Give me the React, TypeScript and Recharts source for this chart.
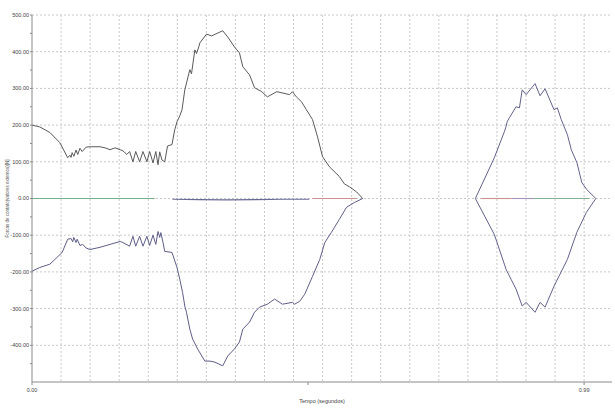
import { LineChart, Line, XAxis, YAxis, CartesianGrid } from "recharts";

if (typeof document !== "undefined") document.body.style.margin = "0";

// envelope superior (cinza escuro)
const upperT = [
	0, 0.014, 0.032, 0.05, 0.064, 0.068, 0.07, 0.072, 0.075, 0.079, 0.082, 0.086, 0.09, 0.097,
	0.104, 0.122, 0.131, 0.14, 0.149, 0.158, 0.163, 0.17, 0.175, 0.181, 0.186, 0.193, 0.199,
	0.206, 0.211, 0.217, 0.222, 0.226, 0.229, 0.233, 0.238, 0.243, 0.251, 0.256, 0.26, 0.265,
	0.269, 0.274, 0.283, 0.286, 0.292, 0.295, 0.299, 0.301, 0.313, 0.322, 0.342, 0.351, 0.363,
	0.372, 0.378, 0.39, 0.399, 0.412, 0.422, 0.439, 0.462, 0.467, 0.474, 0.483, 0.492, 0.503,
	0.512, 0.521, 0.533, 0.551, 0.56, 0.569, 0.582, 0.593,
];
const upperF = [
	200, 195, 180, 152, 111, 118, 112, 125, 115, 132, 120, 137, 128, 140,
	141, 141, 138, 133, 138, 133, 130, 120, 128, 100, 128, 100, 128,
	100, 128, 97, 128, 92, 127, 105, 100, 143, 147, 188, 209, 225,
	242, 296, 351, 340, 405, 395, 413, 424, 448, 443, 457, 440, 413,
	397, 359, 337, 302, 291, 277, 291, 283, 291, 277, 264, 242, 215,
	168, 114, 87, 60, 40, 32, 18, 0,
];

// envelope inferior (azul acinzentado)
const lowerT = [
	0, 0.014, 0.032, 0.041, 0.054, 0.064, 0.07, 0.073, 0.075, 0.079, 0.081, 0.086, 0.091, 0.097,
	0.104, 0.122, 0.14, 0.158, 0.163, 0.175, 0.181, 0.186, 0.193, 0.199, 0.206, 0.211, 0.217,
	0.222, 0.226, 0.229, 0.231, 0.235, 0.238, 0.251, 0.26, 0.265, 0.27, 0.274, 0.277, 0.283,
	0.288, 0.297, 0.31, 0.319, 0.328, 0.342, 0.351, 0.363, 0.372, 0.378, 0.39, 0.399, 0.408,
	0.422, 0.435, 0.449, 0.467, 0.471, 0.48, 0.489, 0.503, 0.516, 0.525, 0.537, 0.551, 0.564,
	0.578, 0.593,
];
const lowerF = [
	-198, -188, -179, -166, -147, -111, -109, -118, -106, -120, -111, -128, -125, -135,
	-139, -133, -125, -117, -120, -130, -103, -130, -103, -130, -103, -128, -100,
	-125, -90, -106, -93, -120, -144, -147, -188, -220, -256, -293, -310, -356,
	-383, -410, -443, -443, -446, -456, -429, -410, -391, -356, -337, -310, -296,
	-288, -274, -288, -283, -288, -280, -261, -212, -166, -120, -92, -57, -24,
	-11, 0,
];

// segundo evento
const upper2T = [
	0.795, 0.829, 0.847, 0.85, 0.852, 0.856, 0.868, 0.874, 0.879, 0.886, 0.902, 0.911, 0.92,
	0.936, 0.942, 0.949, 0.96, 0.967, 0.977, 0.986, 0.995, 1.011,
];
const upper2F = [
	0, 111, 182, 196, 209, 220, 250, 247, 296, 283, 313, 280, 299,
	242, 247, 215, 174, 133, 98, 43, 24, 0,
];
const lower2T = [
	0.795, 0.829, 0.847, 0.85, 0.859, 0.868, 0.879, 0.886, 0.902, 0.911, 0.92, 0.936, 0.96,
	0.977, 0.994, 1.011,
];
const lower2F = [
	0, -98, -179, -193, -220, -247, -293, -283, -310, -283, -296, -239, -166,
	-92, -38, 0,
];

// componentes próximos de zero
const greenT = [0, 0.22];
const greenF = [0, 0];
const navyT = [0.252, 0.3, 0.35, 0.4, 0.45, 0.497];
const navyF = [-2, -3, -4, -3, -2, -2];
const redT = [0.503, 0.582];
const redF = [0, 0];
const red2T = [0.806, 0.86];
const red2F = [0, 0];
const purple2T = [0.86, 0.9];
const purple2F = [0, 0];
const green2T = [0.9, 0.999];
const green2F = [0, 0];

const yTicks = [-450, -400, -350, -300, -250, -200, -150, -100, -50, 0, 50, 100, 150, 200, 250, 300, 350, 400, 450, 500];
const yGrid = [-400, -300, -200, -100, 0, 100, 200, 300, 400, 500];
const xTicks = [0, 0.495, 0.99];
const xLabels = ["0.00", "", "0.99"];
const xGrid = Array.from({ length: 19 }, (_, i) => ((i + 1) * 0.99) / 19);

const toRows = (t: number[], f: number[]) => t.map((v, i) => ({ t: v, f: f[i] }));

const series = [
	{ key: "green", data: toRows(greenT, greenF), color: "#74b088", width: 1.1 },
	{ key: "navy", data: toRows(navyT, navyF), color: "#6a6a98", width: 1.2 },
	{ key: "red", data: toRows(redT, redF), color: "#cc9090", width: 1.1 },
	{ key: "red2", data: toRows(red2T, red2F), color: "#cc9090", width: 1.1 },
	{ key: "purple2", data: toRows(purple2T, purple2F), color: "#a094b8", width: 1.1 },
	{ key: "green2", data: toRows(green2T, green2F), color: "#80b292", width: 1.1 },
	{ key: "upper", data: toRows(upperT, upperF), color: "#5a5a5a", width: 1 },
	{ key: "lower", data: toRows(lowerT, lowerF), color: "#5e5e88", width: 1 },
	{ key: "upper2", data: toRows(upper2T, upper2F), color: "#62628a", width: 1 },
	{ key: "lower2", data: toRows(lower2T, lower2F), color: "#62628a", width: 1 },
];

const fmtY = (v: number) => (v % 100 === 0 ? v.toFixed(2) : "");
const fmtX = (v: number) => xLabels[xTicks.indexOf(v)] ?? "";

const tickStyle = { fontSize: 5.5, fill: "#444", fontFamily: "Liberation Sans, Arial, sans-serif" };

export default function App() {
	return (
		<div style={{ width: 615, height: 409, background: "#fff" }}>
			<LineChart width={615} height={409} margin={{ top: 15, right: 3, left: 0, bottom: 0 }}>
				<CartesianGrid
					stroke="#c8c8c8"
					strokeDasharray="2 2"
					horizontalValues={yGrid}
					verticalValues={xGrid}
				/>
				<XAxis
					dataKey="t"
					type="number"
					domain={[0, 1.04]}
					ticks={xTicks}
					tickFormatter={fmtX}
					tick={tickStyle}
					tickSize={3}
					tickMargin={3}
					height={27}
					stroke="#8a8a8a"
					allowDuplicatedCategory={false}
					label={{
						content: ({ viewBox }: any) => (
							<text
								x={viewBox.x + viewBox.width / 2}
								y={viewBox.y + 21}
								textAnchor="middle"
								fontSize={5.5}
								fill="#444"
								fontFamily="Liberation Sans, Arial, sans-serif"
							>
								Tempo (segundos)
							</text>
						),
					}}
				/>
				<YAxis
					type="number"
					domain={[-500, 500]}
					ticks={yTicks}
					tickFormatter={fmtY}
					tick={tickStyle}
					tickSize={2}
					tickMargin={1}
					width={32}
					stroke="#8a8a8a"
					interval={0}
					label={{
						content: ({ viewBox }: any) => {
							const cx = 9;
							const cy = viewBox.y + viewBox.height / 2;
							return (
								<text
									x={cx}
									y={cy}
									transform={`rotate(-90 ${cx} ${cy})`}
									textAnchor="middle"
									fontSize={4.5}
									fill="#555"
									fontFamily="Liberation Sans, Arial, sans-serif"
								>
									Forcas de contato(valores externos)[N]
								</text>
							);
						},
					}}
				/>
				{series.map((s) => (
					<Line
						key={s.key}
						data={s.data}
						dataKey="f"
						stroke={s.color}
						strokeWidth={s.width}
						dot={false}
						activeDot={false}
						type="linear"
						isAnimationActive={false}
					/>
				))}
			</LineChart>
		</div>
	);
}
